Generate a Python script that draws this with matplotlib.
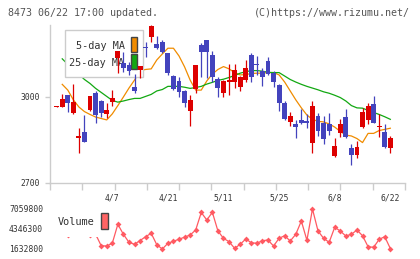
import numpy as np
import matplotlib
matplotlib.use("Agg")
import matplotlib.pyplot as plt
from matplotlib.patches import Rectangle
from matplotlib.transforms import blended_transform_factory

# daily candles (index 0 .. 60)
opens = [2965, 2966, 3007, 2943, 2856, 2879, 2955, 3015, 2986, 2940,
         2981, 3135, 3117, 3112, 3036, 3094, 3174, 3208, 3185, 3190,
         3155, 3073, 3056, 3022, 2952, 3028, 3181, 3199, 3147, 3062,
         3015, 3053, 3051, 3036, 3059, 3146, 3112, 3091, 3126, 3083,
         3042, 2978, 2914, 2906, 2920, 2916, 2841, 2934, 2910, 2906,
         2794, 2875, 2929, 2821, 2798, 2894, 2920, 2976, 2896, 2879,
         2823]
highs = [2967, 3010, 3007, 3044, 2893, 2937, 3005, 3020, 2990, 2978,
         3024, 3160, 3156, 3123, 3079, 3108, 3193, 3250, 3214, 3199,
         3155, 3075, 3071, 3024, 3007, 3112, 3189, 3199, 3160, 3069,
         3058, 3114, 3115, 3072, 3129, 3155, 3143, 3102, 3140, 3091,
         3045, 2986, 2948, 2920, 2957, 2940, 2986, 2943, 2934, 2943,
         2856, 2923, 2958, 2835, 2848, 2961, 2978, 3003, 2941, 2906,
         2865]
lows = [2964, 2966, 2947, 2940, 2804, 2842, 2950, 2910, 2931, 2926,
        2969, 3085, 3088, 3077, 3013, 3067, 3140, 3193, 3168, 3152,
        3077, 3024, 3001, 2964, 2899, 3015, 3071, 3065, 3053, 2999,
        2999, 3007, 3032, 3022, 3053, 3052, 3077, 3039, 3077, 3036,
        2952, 2919, 2899, 2858, 2906, 2893, 2806, 2865, 2836, 2867,
        2792, 2862, 2856, 2763, 2788, 2891, 2906, 2910, 2862, 2821,
        2806]
closes = [2966, 2993, 2978, 2981, 2864, 2844, 3003, 2937, 2943, 2955,
          2998, 3160, 3102, 3091, 3021, 3108, 3172, 3248, 3172, 3157,
          3085, 3027, 3018, 2978, 2990, 3112, 3158, 3158, 3071, 3030,
          3056, 3058, 3094, 3069, 3100, 3069, 3110, 3069, 3080, 3053,
          2978, 2922, 2934, 2896, 2908, 2908, 2969, 2882, 2852, 2882,
          2829, 2906, 2859, 2798, 2825, 2947, 2969, 2910, 2897, 2827,
          2858]

ma5 = [np.nan, 3044, 3024, 2990, 2965, 2949, 2939, 2930, 2925, 2920,
       2941, 2970, 3000, 3031, 3059, 3092, 3096, 3098, 3129, 3150,
       3170, 3170, 3143, 3105, 3059, 3024, 3024, 3056, 3080, 3096,
       3106, 3098, 3085, 3077, 3078, 3082, 3083, 3083, 3085, 3085,
       3077, 3052, 3021, 2990, 2962, 2937, 2922, 2915, 2913, 2906,
       2895, 2880, 2867, 2864, 2855, 2841, 2873, 2873, 2883, 2887,
       2891]
ma25 = [np.nan, 3133, 3114, 3097, 3079, 3061, 3047, 3030, 3016, 3002,
        2988, 2982, 2986, 2991, 2995, 2995, 3002, 3009, 3021, 3026,
        3037, 3037, 3037, 3034, 3030, 3033, 3037, 3045, 3051, 3058,
        3062, 3068, 3075, 3083, 3088, 3092, 3092, 3090, 3086, 3085,
        3085, 3073, 3061, 3052, 3044, 3037, 3031, 3025, 3018, 3013,
        3006, 2998, 2986, 2970, 2962, 2961, 2953, 2946, 2939, 2931,
        2922]

volume = [4200000, 4000000, 3530000, 4500000, 5000000, 4300000, 3530000, 3650000,
          2080000, 2040000, 2406000, 4984000, 3627000, 2542000, 2271000, 2786000,
          3301000, 3763000, 2216000, 1632800, 2406000, 2677000, 2962000, 3234000,
          3532000, 4211000, 6585000, 5567000, 6612000, 4075000, 3085000, 2623000,
          1728000, 2270000, 2990000, 2488000, 2406000, 2759000, 2854000, 2040000,
          3085000, 3437000, 2718000, 3627000, 5432000, 2813000, 7059800, 4075000,
          3085000, 2542000, 4577000, 4075000, 3397000, 3627000, 4211000, 3437000,
          1945000, 1864000, 2949000, 3301000, 1700000]

date_pos = [10, 20, 30, 40, 50, 60]
date_labels = ["4/7", "4/21", "5/11", "5/25", "6/8", "6/22"]
price_ticks = [2700, 3000]
vol_ticks = [1632800, 4346300, 7059800]

RED = "#dd0000"
BLUE = "#4343bd"
ORANGE = "#f08c00"
GREEN = "#12a812"
VOLC = "#ff5a62"
GRID = "#cccccc"
TXT = "#333333"
MONO = "DejaVu Sans Mono"

W, H = 420, 259
fig = plt.figure(figsize=(W / 100, H / 100), dpi=100)


def fx(x):
    return x / W


def fy(y):
    return 1 - y / H


ax = fig.add_axes([fx(50), fy(183), fx(405) - fx(50), fy(25) - fy(183)])
axv = fig.add_axes([fx(50), fy(253), fx(405) - fx(50), fy(205) - fy(253)])

xlim = (-1.2, 62.64)

# --- candles ---
idx = np.arange(len(closes))
o = np.array(opens)
c = np.array(closes)
h = np.array(highs)
l = np.array(lows)
col = np.where(c >= o, RED, BLUE)
ax.vlines(idx, l, h, colors=col, lw=0.9, zorder=4)
ax.bar(idx, np.maximum(np.abs(c - o), 3.5), bottom=np.minimum(o, c),
       width=0.88, color=col, lw=0, zorder=4)

ax.plot(idx, ma5, color=ORANGE, lw=0.9, zorder=2)
ax.plot(idx, ma25, color=GREEN, lw=0.9, zorder=2)

ax.set_xlim(*xlim)
ax.set_ylim(2700, 3251)
for s in ["top", "right"]:
    ax.spines[s].set_visible(False)
for s in ["left", "bottom"]:
    ax.spines[s].set_color(GRID)
    ax.spines[s].set_linewidth(1)
ax.set_xticks(np.linspace(xlim[0], xlim[1], 12))
ax.set_xticklabels([])
ax.set_yticks(price_ticks)
ax.set_yticklabels([str(v) for v in price_ticks])
ax.tick_params(axis="x", length=5, width=1, color=GRID)
ax.tick_params(axis="y", length=3.6, width=1, color=GRID, labelcolor=TXT,
               labelsize=5.8, pad=3.6)
for t in ax.get_yticklabels():
    t.set_fontfamily(MONO)

tr = blended_transform_factory(ax.transData, ax.transAxes)
for p, s in zip(date_pos, date_labels):
    ax.text(p, -0.095, s, transform=tr, ha="center", va="center",
            fontsize=5.8, family=MONO, color=TXT)

# price legend (under candles, over MA lines)
ax.add_patch(Rectangle((fx(65), fy(77)), fx(143) - fx(65), fy(30) - fy(77),
                       transform=fig.transFigure, fc="white", ec=GRID, lw=1, zorder=3))
ax.text(fx(124.5), fy(46), "5-day MA", transform=fig.transFigure, ha="right",
        va="center", fontsize=7.3, family=MONO, color=TXT, zorder=3.2)
ax.text(fx(124.5), fy(62.5), "25-day MA", transform=fig.transFigure, ha="right",
        va="center", fontsize=7.3, family=MONO, color=TXT, zorder=3.2)
ax.add_patch(Rectangle((fx(131), fy(52)), fx(137) - fx(131), fy(37) - fy(52),
                       transform=fig.transFigure, fc=ORANGE, ec="#444444", lw=1, zorder=3.2))
ax.add_patch(Rectangle((fx(131), fy(69)), fx(137) - fx(131), fy(54) - fy(69),
                       transform=fig.transFigure, fc=GREEN, ec="#444444", lw=1, zorder=3.2))

# --- volume ---
axv.plot(idx, volume, color=VOLC, lw=0.9, marker="D", markersize=3,
         markeredgewidth=0, zorder=2)
per_px = (vol_ticks[2] - vol_ticks[0]) / 40
axv.set_xlim(*xlim)
axv.set_ylim(vol_ticks[0] - 4 * per_px, vol_ticks[2] + 4 * per_px)
for s in axv.spines.values():
    s.set_visible(False)
axv.set_xticks([])
axv.set_yticks(vol_ticks)
axv.set_yticklabels([str(v) for v in vol_ticks])
axv.tick_params(axis="y", length=0, labelcolor=TXT, labelsize=5.8, pad=5)
for t in axv.get_yticklabels():
    t.set_fontfamily(MONO)

axv.add_patch(Rectangle((fx(53), fy(237)), fx(111) - fx(53), fy(209) - fy(237),
                        transform=fig.transFigure, fc="white", ec="none", zorder=3))
axv.text(fx(58), fy(222), "Volume", transform=fig.transFigure, ha="left",
         va="center", fontsize=7.4, family=MONO, color=TXT, zorder=3.2)
axv.add_patch(Rectangle((fx(101), fy(229)), fx(108) - fx(101), fy(213) - fy(229),
                        transform=fig.transFigure, fc="#ff6464", ec="#444444", lw=1, zorder=3.2))

# header texts
fig.text(fx(8), fy(12.5), "8473 06/22 17:00 updated.", ha="left", va="center",
         fontsize=7.2, family=MONO, color="#555555")
fig.text(fx(410), fy(12.5), "(C)https://www.rizumu.net/", ha="right", va="center",
         fontsize=7.2, family=MONO, color="#555555")

fig.savefig("out.png", dpi=100)
